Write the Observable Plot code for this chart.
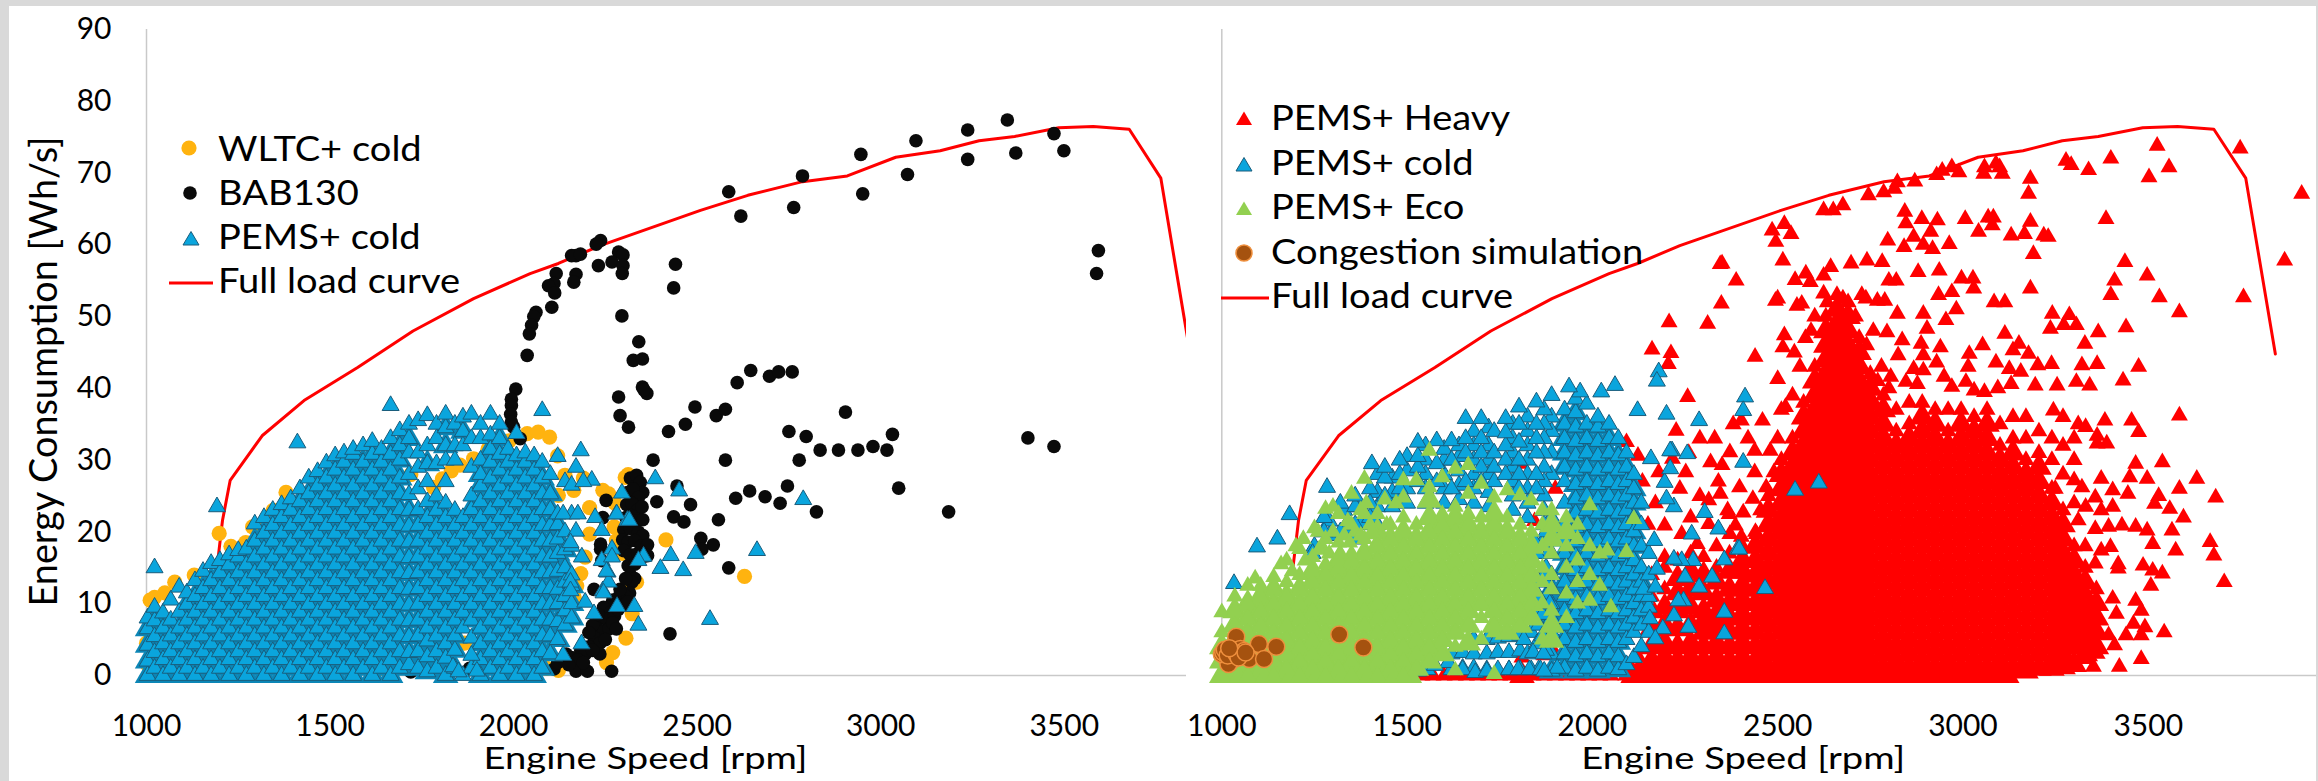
<!DOCTYPE html>
<html>
<head>
<meta charset="utf-8">
<script src="https://cdn.jsdelivr.net/npm/d3@7"></script>
<script src="https://cdn.jsdelivr.net/npm/@observablehq/plot@0.6"></script>
<style>
  html, body { margin: 0; padding: 0; background: #d9d9d9; width: 2318px; height: 781px; overflow: hidden; }
  #sheet { position: absolute; left: 9px; top: 6px; width: 2307px; height: 775px; background: #fff; }
  .panel { position: absolute; top: 0; }
  .legend-label { position: absolute; font: 34px Lato, sans-serif; color: #000; white-space: nowrap; line-height: 36px; transform: scaleX(1.12); transform-origin: left center; }
  .swatch { position: absolute; overflow: visible; }
</style>
</head>
<body>
<div id="sheet"></div>
<div id="root"></div>
<script>
// Inside the solid clouds the single
// markers cannot be told apart, so those columns only trace the cloud's extent.
const speedTicks = [1000, 1500, 2000, 2500, 3000, 3500];
const energyTicks = [0, 10, 20, 30, 40, 50, 60, 70, 80, 90];
const yTitle = "Energy Consumption [Wh/s]";
const xTitle = "Engine Speed [rpm]";

const fullLoadCurve = [[1192,15],[1207,21.6],[1228,27.2],[1315,33.4],[1429,38.3],[1575,42.9],[1726,48],[1891,52.5],[2045,56],[2122,57.4],[2236,59.9],[2509,64.8],[2638,66.9],[2787,68.8],[2909,69.6],[3041,72.2],[3162,73.1],[3268,74.5],[3365,75.1],[3485,76.3],[3579,76.5],[3677,76.1],[3763,69.3],[3843,44.8]];

// ---- left panel ----
const wltcCold = [[1000,4.5],[1003,1.5],[1010,10.5],[1022,10.9],[1050,11.5],[1077,13],[1198,19.8],[1130,14],[1230,18],[1270,18.5],[1289,20.7],[1300,17],[1330,21],[1345,23],[1380,25.5],[1410,22],[1500,20],[1560,19],[1640,26],[1690,21],[1720,28],[1782,26.2],[1806,27.4],[1830,28.5],[1854,29.3],[1891,30.2],[1930,31.5],[1988,32.7],[2037,33.7],[2067,33.9],[2098,33.2],[2120,30.6],[2140,27.9],[2122,25.1],[2164,25.8],[2190,27.5],[2243,25.8],[2259,25.3],[2304,27.6],[2312,28],[2276,24],[2274,20.7],[2280,18.8],[2296,17],[2341,19.3],[2415,18.9],[2207,23.4],[2207,19.7],[2195,16.5],[2183,14.2],[2172,12.5],[2165,10.9],[2150,8.5],[2335,13],[2310,12.5],[2323,8.6],[2306,5.2],[2270,3.2],[2253,1.8],[2629,13.8],[2122,.7],[2090,1],[1866,4.5],[1825,2.5],[1740,2],[1700,3],[1640,1],[1700,12],[1580,10],[1480,6],[1400,13],[1890,14],[1780,18]];

const bab130 = [[2586,67.4],[2619,64],[2787,69.6],[2763,65.2],[2946,72.6],[2951,67.1],[3096,74.5],[3073,69.8],[3237,76],[3237,71.9],[3345,77.4],[3368,72.8],[3472,75.5],[3499,73.1],[3593,59.2],[3588,56],[2441,57.3],[2436,54],[2295,50.1],[2341,46.5],[2326,43.9],[2351,44.1],[2351,40.2],[2363,39.3],[2355,39.8],[2286,38.8],[2609,40.8],[2646,42.5],[2697,41.7],[2722,42.3],[2759,42.3],
[2237,60.6],[2225,60.1],[2170,58.5],[2158,58.5],[2182,58.7],[2231,57.1],[2286,59],[2298,58.6],[2268,57.6],[2298,57.1],[2296,56],[2170,55.9],[2164,54.8],[2116,56],[2110,54.6],[2095,54.3],[2112,53.3],[2104,51.3],[2061,50.6],[2055,50],[2049,48.8],[2043,47.6],[2037,44.6],[2006,39.9],[1994,38.5],[1994,37.6],[1992,36.4],[1994,35.3],[2000,34.6],[2018,33],
[2290,36.2],[2313,34.6],[2422,34],[2468,35],[2494,37.4],[2552,36.2],[2577,37.1],[2904,36.7],[2750,34],[2797,33.3],[2835,31.4],[2885,31.4],[2938,31.4],[2979,31.9],[3017,31.4],[3032,33.6],[3401,33.1],[3472,31.9],[2577,30],[2778,30],[2380,30],[3049,26.1],[3185,22.8],[2605,24.7],[2643,25.7],[2685,24.9],[2726,24],[2746,26.4],[2825,22.8],[2445,26.4],[2390,24.2],[2482,23.8],[2436,22.1],[2464,21.4],[2558,21.7],[2510,19.1],[2544,18.2],[2513,17.6],[2586,15],[2426,5.8],[2267,.6],
[2318,27.5],[2335,27.9],[2345,26.9],[2352,25.5],[2310,25.5],[2325,26],[2340,24.8],[2308,23.8],[2322,24],[2338,23],[2350,23.5],[2306,22],[2320,22.3],[2335,21.5],[2352,21.7],[2300,20.3],[2318,20.5],[2340,20],[2352,19.5],[2297,18.9],[2312,18.6],[2330,18.8],[2348,18],[2365,18.2],[2300,17.4],[2318,16.8],[2338,17],[2352,16.5],[2365,16.7],[2312,15.3],[2330,15.5],[2318,14],[2330,13.5],[2322,13],
[2252,24.4],[2243,22],[2237,18.3],[2237,17.6],[2240,16],[2219,12],[2316,11.5],[2300,11.3],[2286,10.9],[2270,10.5],[2258,9.5],[2245,9.5],[2265,8.8],[2240,8],[2255,7.8],[2275,8.3],[2228,6.5],[2245,6.2],[2260,6.5],[2219,5.3],[2235,4.5],[2205,4],[2183,3.5],[2195,3],[2158,2.5],[2143,3],[2175,2.2],[2170,.6],[2201,.6],[2110,.9],[2120,1.8],[1720,.5],[1810,.8],[1880,1],
[2300,9.8],[2285,9.2],[2270,7.3],[2280,6.5],[2250,5],[2235,3],[2215,3.5],[2190,1.8],[2150,1.5],[2215,7],[2230,8.5],[2205,6],[2310,10.2],[2290,12],[2305,13.5]];

const pemsColdLeft = [[1003,[0,2,4.2,6.5,8]],[1022,[1,3.2,5.4,7.6,9.5,15]],[1045,[0,2.2,4.4,6.6,8.7]],[1066,[1,3.3,5.5,7.7,10.5]],[1089,[0,2.2,4.4,6.6,8.8,12.3]],[1110,[1,3.3,5.5,7.7,9.9,11.5]],[1132,[0,2.2,4.4,6.6,8.8,11,13.2]],[1154,[1,3.3,5.5,7.7,9.9,12.1,14.5]],[1176,[0,2.2,4.4,6.6,8.8,11,13.2,15.6]],[1192,[23.5]],[1200,[1,3.3,5.5,7.7,9.9,12.1,14.3,16]],[1225,[0,2.2,4.4,6.6,8.8,11,13.2,15.4,16.8]],[1250,[1,3.3,5.5,7.7,9.9,12.1,14.3,16.5,17.4]],[1272,[0,2.2,4.4,6.6,8.8,11,13.2,15.4,17.6]],[1295,[1,3.3,5.5,7.7,9.9,12.1,14.3,16.5,18.7,21.1]],[1320,[0,2.2,4.4,6.6,8.8,11,13.2,15.4,17.6,19.8,22]],[1344,[1,3.3,5.5,7.7,9.9,12.1,14.3,16.5,18.7,20.9,23]],[1368,[0,2.2,4.4,6.6,8.8,11,13.2,15.4,17.6,19.8,22,23.8]],[1393,[1,3.3,5.5,7.7,9.9,12.1,14.3,16.5,18.7,20.9,23,24.6]],[1411,[32.4]],[1418,[0,2.2,4.4,6.6,8.8,11,13.2,15.4,17.6,19.8,22,24.2,26]],[1442,[1,3.3,5.5,7.7,9.9,12.1,14.3,16.5,18.7,20.9,23.1,25.3,27.5]],[1466,[0,2.2,4.4,6.6,8.8,11,13.2,15.4,17.6,19.8,22,24.2,26.4,28.4]],[1490,[1,3.3,5.5,7.7,9.9,12.1,14.3,16.5,18.7,20.9,23.1,25.3,27.5,29.6]],[1514,[0,2.2,4.4,6.6,8.8,11,13.2,15.4,17.6,19.8,22,24.2,26.4,28.6,30.6]],[1538,[1,3.3,5.5,7.7,9.9,12.1,14.3,16.5,18.7,20.9,23.1,25.3,27.5,29.7,31]],[1563,[0,2.2,4.4,6.6,8.8,11,13.2,15.4,17.6,19.8,22,24.2,26.4,28.6,30.8,31.5]],[1590,[1,3.3,5.5,7.7,9.9,12.1,14.3,16.5,18.7,20.9,23.1,25.3,27.5,29.7,32]],[1615,[0,2.2,4.4,6.6,8.8,11,13.2,15.4,17.6,19.8,22,24.2,26.4,28.6,30.8,32.6]],[1640,[1,3.3,5.5,7.7,9.9,12.1,14.3,16.5,18.7,20.9,23.1,25.3,27.5,29.7,31.5]],[1665,[0,2.2,4.4,6.6,8.8,11,13.2,15.4,17.6,19.8,22,24.2,26.4,28.6,30.8,33,37.6]],[1690,[1,3.3,5.5,7.7,9.9,12.1,14.3,16.5,18.7,20.9,23.1,25.3,27.5,30,32,34.1]],[1715,[1.5,3.2,5.4,7.6,9.8,12,14.2,16.4,18.6,20.8,23,25.2,28,31,33,35]],[1740,[1,3.3,5.5,7.7,9.9,12.1,14.3,16.5,18.7,20.9,23.1,26,29,31,35.5]],[1765,[0.5,2.6,4.8,6.6,8.8,11,13.2,15.4,17.6,19.8,22,24.2,27,29.5,32,36.2]],[1790,[1,3.3,5.5,7.7,9.9,12.1,14.3,16.5,18.7,20.9,23,25,29.5,33,35]],[1815,[0,2.4,4.4,6.6,8.8,11,13.2,15.4,17.6,19.8,22,24,27,30,32,34.5,36.4]],[1840,[1,3.5,5.5,7.7,9.9,12.1,14.3,16.5,18.7,20.9,23,30,32,35]],[1862,[0,6.6,8.8,11,13.2,15.4,17.6,19.8,22,32,34,36]],[1885,[1,5.2,7.7,9.9,12.1,14.3,16.5,18.7,20.9,23.1,25,29,33,36.4]],[1910,[0,2.2,4.4,6.6,8.8,11,13.2,15.4,17.6,19.8,22,24.2,26.4,28,30,33,35]],[1937,[1,3.3,5.5,7.7,9.9,12.1,14.3,16.5,18.7,20.9,23.1,25.3,27.5,29.7,31.5,33.5,36.4]],[1962,[0,2.2,4.4,6.6,8.8,11,13.2,15.4,17.6,19.8,22,24.2,26.4,28.6,30.8,33,35]],[1985,[1,3.3,5.5,7.7,9.9,12.1,14.3,16.5,18.7,20.9,23.1,25.3,27.5,29.7,31.5]],[2008,[0,2.2,4.4,6.6,8.8,11,13.2,15.4,17.6,19.8,22,24.2,26.4,28.6,30.6,33.7]],[2032,[1,3.3,5.5,7.7,9.9,12.1,14.3,16.5,18.7,20.9,23.1,25.3,27.5,29.7,31]],[2056,[0,2.2,4.4,6.6,8.8,11,13.2,15.4,17.6,19.8,22,24.2,26.4,28.6,30.6]],[2078,[1,3.3,5.5,7.7,9.9,12.1,14.3,16.5,18.7,20.9,23.1,25.3,27.5,29.7,36.9]],[2100,[3,5.5,7.7,9.9,12.1,14.3,16.5,18.7,20.9,23.1,25.3,28]],[2120,[5,7.5,10,12,14.5,17,19,21,22.5,30.5]],[2140,[7,9,11,13,15,17.5,20,27]],[2158,[8,10,12.5,14,18,22.5,26.5]]];
const pemsColdLeftFringe = [[2183,31.3],[2170,29],[2213,27.2],[2190,27],[2135,22.5],[2175,22.5],[2222,22],[2280,22.5],[2310,21.6],[2240,20.2],[2170,20.1],[2155,18.5],[2186,16.5],[2268,17.6],[2240,16],[2256,14.4],[2155,13],[2155,11.8],[2243,11.8],[2195,10.2],[2219,8.6],[2282,9.6],[2329,9.6],[2340,7],[2185,4.4],[2135,2.8],[2295,25.4],[2281,22.5],[2386,27.4],[2451,25.7],[2496,17],[2428,16.7],[2400,14.9],[2462,14.6],[2663,17.4],[2789,24.5],[2535,7.8],[2354,16.6],[2340,16],[2315,21.6],[2268,16.5],[2259,13],[2253,14.5],[2245,11.5],[1835,1.2],[1850,.5],[1885,2.8],[1900,.6]];

// ---- right panel ----
const pemsHeavyCloud = [[1510,[0]],[1540,[0]],[1570,[0]],[1600,[0]],[1630,[0]],[1660,[0]],[1690,[0]],[1720,[0]],[1750,[0]],[1780,[0]],[1810,[0,2.5]],[1840,[0]],[1870,[0,2.8]],[1900,[0,3]],[1930,[0]],[1960,[0]],[1990,[0]],[2020,[0]],[2050,[0]],[2090,[0]],[2125,[.5,2.5]],[2160,[0,2,4,6.5,9,11,14]],[2195,[.5,2.5,4.5,7,9.5,12,15,16.5,20.9]],[2230,[0,2,4,6.5,9,11.5,13.5,16]],[2265,[.5,2.5,4.5,7,9.5,12,14.5,17]],[2300,[0,2,4,6,7.5,9,11.5,14,16.5]],[2335,[.5,2.5,4.5,6.5,8.5,10.5,13,15,18]],[2370,[0,2,4,6,8,10,12,14.5,17]],[2405,[.5,2.5,4.5,6.5,8.5,10.5,12.5,14.5,16,18]],[2440,[0,2,4,6,8,10,12,14,16,18,20]],[2475,[1,3,5,7,9,11,13,15,17,19,21,23,25]],[2510,[0,2,4,6,8,10,12,14,16,18,20,22,24,26,28,30]],[2540,[1,3,5,7,9,11,13,15,17,19,21,23,25,27,29,31,33]],[2570,[0,2,4,6,8,10,12,14,16,18,20,22,24,26,28,30,32,34,36,38]],[2600,[1,3,5,7,9,11,13,15,17,19,21,23,25,27,29,31,33,35,37,39,41,43]],[2630,[0,2,4,6,8,10,12,14,16,18,20,22,24,26,28,30,32,34,36,38,40,42,44,46,48,50]],[2660,[1,3,5,7,9,11,13,15,17,19,21,23,25,27,29,31,33,35,37,39,41,43,45,47,49,51,53]],[2690,[0,2,4,6,8,10,12,14,16,18,20,22,24,26,28,30,32,34,36,38,40,42,44,46,48,50,52]],[2720,[1,3,5,7,9,11,13,15,17,19,21,23,25,27,29,31,33,35,37,39,41,43,45,47]],[2750,[0,2,4,6,8,10,12,14,16,18,20,22,24,26,28,30,32,34,36,38,40,42]],[2785,[1,3,5,7,9,11,13,15,17,19,21,23,25,27,29,31,33,35,37,39]],[2820,[0,2,4,6,8,10,12,14,16,18,20,22,24,26,28,30,32,34,37]],[2855,[1,3,5,7,9,11,13,15,17,19,21,23,25,27,29,31,33,35,38]],[2890,[0,2,4,6,8,10,12,14,16,18,20,22,24,26,28,30,32,34,36,38]],[2925,[1,3,5,7,9,11,13,15,17,19,21,23,25,27,29,31,33,35,37]],[2960,[0,2,4,6,8,10,12,14,16,18,20,22,24,26,28,30,32,34,37]],[2995,[1,3,5,7,9,11,13,15,17,19,21,23,25,27,29,31,33,35,37]],[3030,[0,2,4,6,8,10,12,14,16,18,20,22,24,26,28,30,32,34,36]],[3065,[1,3,5,7,9,11,13,15,17,19,21,23,25,27,29,31,33,35,37]],[3100,[0,2,4,6,8,10,12,14,16,18,20,22,24,26,28,30,32,35]],[3135,[1,3,5,7,9,11,13,15,17,19,21,23,25,27,29,31,33,36]],[3170,[.6,2,4,6,8,10,12,14,16,18,20,22,24,26,28,30,33,36]],[3205,[1,3,5,7,9,11,13,15,17,19,21,23,25,27,29,31,34]],[3240,[1,2,4,6,8,10,12,14,16,18,20,22,24,26,30,33]],[3270,[1.2,3,5,7,9,11,13,15,17,19,21,23,28,32,36]],[3300,[1.5,4,6,8,10,12,14,16,18,24,30,33]],[3330,[3,5,7,9,11,13,15,18]],[3360,[4,6,8,10,12]]];
const pemsHeavyBaseSpeed = [2110,2145,2178,2212,2248,2282,2318,2352,2388,2422,2458,2492,2525,2555,2585,2615,2645,2675,2705,2735,2768,2803,2838,2873,2908,2942,2978,3013,3048,3083,3118];
const pemsHeavyScatter = [[3524,73.8],[3748,73.4],[3399,72],[3556,70.8],[3502,69.4],[3339,70.4],[3278,71.7],[3292,71.1],[3182,69.2],[3177,67.1],[3089,71.3],[3058,70.8],[3099,70.8],[3106,69.9],[3056,69.9],[2970,70.8],[2989,70.1],[2944,70.3],[2929,69.7],[2870,68.8],[2823,68.7],[2815,67.8],[2786,67.3],[2745,66.9],[2676,65.5],[2650,64.8],[2624,64.8],[2518,62.9],[2485,62],[2536,61.5],[2495,60.4],[3914,67.1],[3386,63.6],[3868,57.8],[3757,52.7],[2843,64.6],[2846,63],[2889,63.6],[2931,63.4],[3006,63.6],[3068,63.8],[3082,63.8],[3079,62.7],[3042,61.8],[3182,63.2],[3166,61.5],[3130,61.3],[3218,61.3],[3230,61.1],[3190,58.7],[2913,61.8],[2867,61.1],[2893,60],[2918,59.4],[2963,60.1],[2841,59.7],[2797,60.6],[2514,57.8],[2698,57.4],[2741,57.8],[2782,57.6],[2643,56.9],[2624,55.7],[2576,56],[2547,55.1],[2588,54.8],[2350,57.4],[2345,57.3],[2388,55],[2348,51.8],[2879,56.2],[2936,56.4],[2996,55.3],[3027,55.3],[2800,55],[2820,55],[2970,53.4],[3029,53.9],[2934,53],[3437,57.6],[3497,55.7],[3409,55],[3399,53],[3530,52.7],[3584,50.6],[3182,53.9],[2500,52.5],[2552,51.5],[2565,51.8],[2624,53.2],[2634,52],[2676,52.5],[2727,53],[2738,52.5],[2769,52.2],[2789,52.2],[2823,50.4],[2893,50.4],[2982,51],[2954,49.5],[3084,52],[3113,52],[3241,50.4],[3287,50.2],[3236,48.3],[3272,48.8],[3306,48.8],[3365,47.8],[3440,48.5],[3329,46.2],[3113,47.6],[3474,43],[3432,41.1],[3362,43.4],[3321,43.2],[3306,40.9],[3342,40.4],[3254,40.4],[3195,40.4],[3239,43.4],[3202,43.2],[2518,47.4],[2514,45.7],[2439,44.4],[2500,41.3],[2758,48],[2795,47.8],[2836,46.7],[2825,44.6],[2903,48.3],[2887,46.2],[2939,45.7],[2893,44.6],[2929,43.6],[2867,42.7],[2893,42.5],[2805,41.6],[2800,40],[2846,40.9],[2877,40.6],[2949,41.6],[2970,40.2],[3053,46],[3017,44.8],[3089,43.6],[3014,43],[3008,40.9],[3030,39.7],[3058,39.5],[3125,42.7],[3151,46.2],[3135,45.3],[3177,44.8],[3156,42.3],[3130,40.6],[3094,40],[2207,49.2],[2311,49],[2161,45.4],[2212,44.9],[2205,43.4],[2257,38.8],[2494,52.2],[2402,35.5],[2459,35.5],[2521,37.4],[2371,31.1],[2438,31.3],[2480,31.3],[2350,29.3],[2438,28.3],[2397,26.2],[2469,26.2],[2433,24.6],[2490,28.3],[2369,22.5],[2407,22.7],[2454,23],[2371,19.7],[2345,25.3],[2402,19.3],[2443,19.7],[2092,32.5],[2123,30.6],[2179,28.3],[2252,28.3],[2236,26],[2216,30.2],[2319,29.7],[2226,34.1],[2314,24.4],[2365,23],[2314,21.1],[2386,20.9],[2241,19.7],[2283,18.3],[1808,29.5],[1844,21.5],[1900,26],[3244,36.9],[3311,35],[3383,35.5],[3455,35.5],[3474,33.9],[3331,34.6],[3362,33.4],[3388,32.3],[3466,29.5],[3538,29.7],[3584,36.2],[3631,27.4],[3682,24.8],[3584,26],[3528,25],[3445,25.3],[3497,27.4],[3450,27.6],[3558,23.2],[3517,23.9],[3595,22],[3564,20.2],[3512,18.3],[3574,17.4],[3667,18.6],[3677,16.7],[3705,13],[3538,14.2],[3507,12.5],[3486,15.3],[3512,14.6],[3419,14.9],[3466,10.4],[3481,9],[3460,7.2],[3491,6.7],[3543,6],[3481,2.3],[3422,1.2],[3440,5.6],[3481,5.6],[3393,5.6],[3409,4.2],[3414,8.6],[3404,10.7],[3357,6.7],[3362,3],[3331,2.3],[3352,1.2],[3429,20.9],[3466,20.7],[3497,20.2],[3393,20.7],[3357,20.4],[3311,21.6],[3373,17.4],[3398,17.9],[3419,15.5],[3373,27.4],[3404,25.8],[3357,24.8],[3300,27.2],[3321,26.2],[3249,26],[3362,32.3],[3404,23.5],[3331,23.5],[3373,23],[3357,15.6],
[2150,21],[2170,24],[2135,27],[2265,22],[2290,25],[2340,27],[2260,31],[2290,33],[2330,33],[2380,35],[2420,33],[2500,33],[2510,37],[2540,39],[2560,43],[2575,47],[2590,48],[2545,45],[2600,50],[2710,50],[2740,46],[2780,43],[2760,38],[2770,41]];

const pemsColdRightFringe = [[1033,12.8],[1095,17.9],[1150,19],[1183,22.4],[1245,17],[1276,20],[1276,22],[1284,26.2],[1320,20],[1320,24],[1360,19],[1360,21],[1360,23.5],[1360,25],[1400,22],[1400,24],[1400,26],[1405,29.5],[1440,25],[1440,27.5],[1440,29],[1480,26],[1480,28],[1480,30],[1529,27],[1529,29],[1529,30.5],[1529,32.5],[1580,27],[1580,29.5],[1580,32.7],[1620,26],[1620,30],[1620,32.7],[1658,27],[1658,31],[1658,33],[1658,35.8],[1700,27],[1700,29],[1700,31],[1700,33],[1700,35.8],[1735,27],[1735,29],[1735,31],[1735,34],[1766,28],[1766,30],[1766,32],[1766,33.8],[1766,35.8],[1802,26],[1802,28],[1802,30],[1802,32.5],[1802,35],[1802,37.4],[1849,26],[1849,28],[1849,31],[1849,33],[1849,35],[1849,38.1],
[1530,.6],[1555,.8],[1575,1.4],[1611,1.8],[1650,.8],[1684,.4],[1715,.6],[1775,.8],[1800,.8],[1830,.8],[1860,.8],[1905,1],[1815,5],[1825,3],[1850,4.4],[1870,.6],[1030,0],[1060,0],[1840,3.2],[1868,3],
[1840,19],[1830,16],[1845,13.5],[1855,11],[1865,8.5],[1870,14],[1880,17],[1875,20],[1850,17],[1865,5.5],[1885,10],
[2122,36.9],[2200,36.4],[2288,35.5],[2412,38.8],[2407,36.9],[2061,40.4],[2024,39.5],[1967,39.5],[1937,40.2],[1890,39],[2179,42.3],[2174,41],[2215,31.3],[2256,30.9],[2158,30.2],[2407,29.7],[2547,25.8],[2611,26.8],[2466,12.1],[2392,17.6],[2356,16.1],[2356,8.8],[2356,5.8],[2340,20.4],[2303,22.7],[2396,17.6],[2272,16],[2241,16],[2220,16.2],[2250,13.7],[2288,12.3],[2323,13.7],[2246,10.4],[2220,8.3],[2259,6.7],[2190,6.5],[2170,5.1],[2155,7.9],[2138,12],[2170,12.3],[2174,14.8],[2167,18.8],[2232,10.4],[2268,19.7],[2220,23.5],[2200,24.6],[2195,26.9],[2210,28.8],[2210,31.3]];
const pemsColdRightColumn = [[1890,[0.6,3,6,8,10,12,14,17,20,22,28,31,34,36]],[1925,[1,3,5,7,9,11,13,15,17,19,21,24,27,29,31,33,35,37]],[1955,[.6,2.6,4.6,6.6,8.6,10.6,12.6,14.6,16.6,18.6,20.6,22.6,24.6,26.6,28.6,30.6,32.6,34.6,36.6,38.5]],[1985,[1,3,5,7,9,11,13,15,17,19,21,23,25,27,29,31,33,35,37.8]],[2015,[.6,2.6,4.6,6.6,8.6,10.6,12.6,14.6,16.6,18.6,20.6,22.6,24.6,26.6,28.6,30.6,32.6,34.6,36]],[2045,[1,3,5,7,9,11,13,15,17,19,21,23,25,27,29,31,33,35]],[2070,[.8,2.6,4.6,6.6,8.6,10.6,12.6,14.6,16.6,18.6,20.6,22.6,24.6,26.6,28.6,30.6,33]],[2092,[1.5,5,7,9,11,13,15,17,19,21,23,25,27,29,31]],[2112,[2.5,6,8,10,12,14,16,18,20,22,24,26,28]],[2132,[4,7,9,11,13,15,18,21,24]],[2152,[6,9.5,11,14,17]]];
const pemsColdRightLower = [[1620,[.8,3]],[1650,[1,3.2]],[1680,[1,3,5]],[1715,[.8,3,5]],[1745,[.8,3.2,5.2]],[1775,[.8,3.2,5.4]],[1805,[.8,3.4,5.6]],[1835,[.8,6,8]],[1855,[.8,7,9]],[1875,[3.5,6,8.5,11,13,15]]];
const pemsColdRightUpper = [[1250,[18]],[1290,[19.5,21.5]],[1330,[20.5,23]],[1375,[21,23.5]],[1420,[21,23.5,25.5,28]],[1460,[23.5,25.5,27.5]],[1500,[24,26,28.5,30.5]],[1550,[24,26,28,30,32]],[1600,[24,26,28,30,31.5]],[1640,[24.5,26.5,28.5,30.5,32]],[1680,[24,26,28,30,32,34]],[1720,[23.5,25.5,28,30,32,34.5]],[1785,[23,25,27,29,31,33,35]],[1825,[22,24,26,28,30,32,34,36]],[1870,[19,21,23,25,27,29,31,33,35,37]]];

const pemsEcoCloud = [[1000,[0,2,4,6,8.8]],[1035,[1,3,5,7,9,11]],[1070,[0,2,4,6,8,10,12.5]],[1105,[1,3,5,7,9,11,12.5]],[1140,[0,2,4,6,8,10,12,13.7]],[1175,[1,3,5,7,9,11,13,16]],[1210,[0,2,4,6,8,10,12,14,17.6]],[1245,[1,3,5,7,9,11,13,14.5,16.5]],[1280,[0,2,4,6,8,10,12,14,15.5,19,23.2]],[1315,[1,3,5,7,9,11,13,15,16,18.5,22.5]],[1350,[0,2,4,6,8,10,12,14,16,17,21,25.3]],[1385,[1,3,5,7,9,11,13,15,17,19,22.5,27.4]],[1420,[0,2,4,6,8,10,12,14,16,18,20,22.5]],[1455,[1,3,5,7,9,11,13,15,17,19,21]],[1490,[0,2,4,6,8,10,12,14,16,18,20,22,24.8,27.2]],[1525,[1,3,5,7,9,11,13,15,17,19,21,27.2]],[1560,[2,4,6,8,10,12,14,16,18,20,22,24.4,26.2,31.3]],[1595,[3,5,7,9,11,13,15,17,19,21,22.5,27.6]],[1630,[.7,4,6,8,10,12,14,16,18,20,22,23.5,28.8]],[1665,[4.5,7,9,11,13,15,17,19,21,22.5,25.3,29.3]],[1700,[5,8,10,12,14,16,18,20,22,26.7]],[1735,[.2,6,7,9,11,13,15,17,19,21,22.5,24.8]],[1770,[6,8,10,12,14,16,18,20,22,25.8]],[1805,[7,9,11,13,15,17,19,21,25.1]],[1835,[8,10,12,14,16,18,20,24.4]],[1865,[5,10,13,15,18,21,23]],[1890,[4.9,7,9,12,14,17,19,21,23]],[1930,[8,11.4,15,18,20,22]],[1960,[10,13,16,19,21]],[1993,[10.4,14,18,23.7]],[2020,[12.5,17]],[2040,[17.4]],[2050,[9.5]],[2092,[17.2]],[2112,[21.8]]];
const pemsEcoBaseSpeed = [1018,1052,1088,1122,1158,1192,1228,1262,1298,1332,1368,1402,1438,1472,1506];
const pemsEcoFringe = [[1220,19],[1250,20.5],[1270,18],[1300,20],[1330,19.5],[1360,20],[1375,23],[1300,23.5],[1160,15.5],[1190,14.5],[1090,13.5],[1225,16],[1262,17.5],[1290,17],[1320,17],[1345,18.5],[1375,19.5],[1400,21],[1405,20],[1445,21],[1260,20],[1200,18],[1340,21.5],[1390,24],[1440,24.5],[1470,24]];

const congestion = [[1039,5.4],[1100,4.4],[1147,4],[1317,5.7],[1382,3.9],[1012,3.5],[1025,3.3],[1030,3.6],[1050,3.7],[1060,3.4],[1074,2.3],[1114,2.3],[1033,2.3],[1018,1.6],[1000,3],[1004,3.2],[1008,3.6],[1016,2.8],[1040,3],[1045,2.5],[1064,3.2],[1020,3.8]];

// ---- legends (text only) ----
const leftLegendLabels = ["WLTC+ cold", "BAB130", "PEMS+ cold", "Full load curve"];
const rightLegendLabels = ["PEMS+ Heavy", "PEMS+ cold", "PEMS+ Eco", "Congestion simulation", "Full load curve"];

const pairs = rows => rows.map(([x, y]) => ({x, y}));
const columns = rows => rows.flatMap(([x, ys]) => ys.map(y => ({x, y})));
const baseRow = speeds => speeds.map(x => ({x, y: 0}));
// points with a close neighbour above: the inside of a solid cloud, bottom row included
const packed = rows => rows.flatMap(([x, ys]) => ys.filter((y, i) => i < ys.length - 1 && ys[i + 1] - y <= 2.7 && (i === 0 || y - ys[i - 1] <= 2.7)).map(y => ({x, y})));

const COLORS = {orange: "#ffb30f", black: "#0a0a0a", blue: "#0aa5dd", blueEdge: "#1a5d7c", blueDeep: "#0c86b6", red: "#ff0000", green: "#92d050", brown: "#a5520f", brownEdge: "#ee8f3d", axis: "#c9c9c9"};
const FONT = "Lato, sans-serif";
const root = document.getElementById("root");

function tri(data, fill, stroke) {
  return Plot.dot(data, {x: "x", y: "y", r: 6.3, symbol: "triangle", fill, stroke: stroke || fill, strokeWidth: stroke ? 1 : 0});
}
function solid(data, fill) {
  return Plot.dot(data, {x: "x", y: "y", r: 9.5, symbol: "triangle", fill});
}
function panel({left, width, marginLeft, marginRight, domain, marks, yAxis, titleDx}) {
  const svg = Plot.plot({
    width, height: 781, marginLeft, marginRight, marginTop: 29, marginBottom: 106,
    style: {background: "transparent", fontFamily: FONT, overflow: "visible"},
    x: {domain, range: [marginLeft, width - marginRight]},
    y: {domain: [0, 90]},
    marks: [
      Plot.ruleX([1000], {stroke: COLORS.axis, strokeWidth: 1.5}),
      Plot.ruleY([0], {stroke: COLORS.axis, strokeWidth: 1.5}),
      Plot.line(pairs(fullLoadCurve), {x: "x", y: "y", stroke: COLORS.red, strokeWidth: 3, clip: true}),
      ...marks,
      Plot.axisX({ticks: speedTicks, tickFormat: "d", tickSize: 0, tickPadding: 39, fontSize: 30, label: null, fill: "#000"}),
      Plot.text([xTitle], {frameAnchor: "bottom", dx: titleDx, dy: 93, fontSize: 30, fill: "#000"}),
      ...(yAxis ? [
        Plot.axisY({ticks: energyTicks, tickSize: 0, tickPadding: 35, fontSize: 30, label: null, fill: "#000"}),
        Plot.text([yTitle], {frameAnchor: "left", textAnchor: "middle", rotate: -90, dx: -102, dy: 19, fontSize: 37.8, fill: "#000"})
      ] : [Plot.axisY({ticks: [], tickSize: 0, label: null})])
    ]
  });
  d3.select(svg).selectAll("text").filter(function () { return this.textContent === xTitle; })
    .attr("textLength", 324).attr("lengthAdjust", "spacingAndGlyphs");
  svg.classList.add("panel");
  svg.style.left = left + "px";
  root.appendChild(svg);
}

panel({
  left: 0, width: 1215, marginLeft: 146, marginRight: 29, domain: [1000, 3833], yAxis: true, titleDx: -21,
  marks: [
    Plot.dot(pairs(wltcCold), {x: "x", y: "y", r: 7.6, fill: COLORS.orange}),
    Plot.dot(pairs(bab130), {x: "x", y: "y", r: 6.8, fill: COLORS.black}),
    solid(packed(pemsColdLeft), COLORS.blueDeep),
    tri(columns(pemsColdLeft), COLORS.blue, COLORS.blueEdge),
    tri(pairs(pemsColdLeftFringe), COLORS.blue, COLORS.blueEdge)
  ]
});
panel({
  left: 1160, width: 1158, marginLeft: 61.3, marginRight: 2, domain: [1000, 3954], yAxis: false, titleDx: -26,
  marks: [
    solid(packed(pemsHeavyCloud), COLORS.red),
    solid(baseRow(pemsHeavyBaseSpeed), COLORS.red),
    tri(columns(pemsHeavyCloud), COLORS.red),
    tri(pairs(pemsHeavyScatter), COLORS.red),
    solid(packed(pemsColdRightColumn), COLORS.blueDeep),
    tri(columns(pemsColdRightColumn), COLORS.blue, COLORS.blueEdge),
    tri(columns(pemsColdRightLower), COLORS.blue, COLORS.blueEdge),
    tri(columns(pemsColdRightUpper), COLORS.blue, COLORS.blueEdge),
    tri(pairs(pemsColdRightFringe), COLORS.blue, COLORS.blueEdge),
    solid(packed(pemsEcoCloud), COLORS.green),
    solid(baseRow(pemsEcoBaseSpeed), COLORS.green),
    tri(columns(pemsEcoCloud), COLORS.green),
    tri(pairs(pemsEcoFringe), COLORS.green),
    Plot.dot(pairs(congestion), {x: "x", y: "y", r: 8.5, fill: COLORS.brown, stroke: COLORS.brownEdge, strokeWidth: 1.5})
  ]
});

// legends: real text plus small swatches, positioned over the panels
const NS = "http://www.w3.org/2000/svg";
function swatch(x, y, kind) {
  const s = document.createElementNS(NS, "svg");
  s.setAttribute("class", "swatch");
  s.setAttribute("width", 60); s.setAttribute("height", 30);
  s.style.left = (x - 30) + "px"; s.style.top = (y - 15) + "px";
  let el;
  if (kind.shape === "tri") {
    el = document.createElementNS(NS, "polygon");
    el.setAttribute("points", "30,7.5 38,21 22,21");
  } else if (kind.shape === "dot") {
    el = document.createElementNS(NS, "circle");
    el.setAttribute("cx", 30); el.setAttribute("cy", 15); el.setAttribute("r", kind.r);
  } else {
    el = document.createElementNS(NS, "line");
    el.setAttribute("x1", 30 - kind.half); el.setAttribute("x2", 30 + kind.half);
    el.setAttribute("y1", 15); el.setAttribute("y2", 15);
  }
  if (kind.fill) el.setAttribute("fill", kind.fill);
  if (kind.stroke) { el.setAttribute("stroke", kind.stroke); el.setAttribute("stroke-width", kind.sw || 1); }
  s.appendChild(el);
  root.appendChild(s);
}
function legendRows(labels, textX, firstBaseline, step, swatches) {
  labels.forEach((label, i) => {
    const base = firstBaseline + i * step;
    const d = document.createElement("div");
    d.className = "legend-label";
    d.textContent = label;
    d.style.left = textX + "px";
    d.style.top = (base - 29) + "px";
    root.appendChild(d);
    const k = swatches[i];
    swatch(k.cx, base + k.dy, k);
  });
}
legendRows(leftLegendLabels, 218, 159, 44, [
  {cx: 189, dy: -11, shape: "dot", r: 7.6, fill: COLORS.orange},
  {cx: 190, dy: -10, shape: "dot", r: 6.8, fill: COLORS.black},
  {cx: 191, dy: -8, shape: "tri", fill: COLORS.blue, stroke: COLORS.blueEdge},
  {cx: 191, dy: -8, shape: "line", half: 22, stroke: COLORS.red, sw: 3}
]);
legendRows(rightLegendLabels, 1271, 128, 44.5, [
  {cx: 1244, dy: -9, shape: "tri", fill: COLORS.red},
  {cx: 1244, dy: -8, shape: "tri", fill: COLORS.blue, stroke: COLORS.blueEdge},
  {cx: 1244, dy: -8, shape: "tri", fill: COLORS.green},
  {cx: 1244, dy: -9, shape: "dot", r: 8, fill: COLORS.brown, stroke: COLORS.brownEdge, sw: 1.5},
  {cx: 1245, dy: -8, shape: "line", half: 24, stroke: COLORS.red, sw: 3}
]);
</script>
</body>
</html>
